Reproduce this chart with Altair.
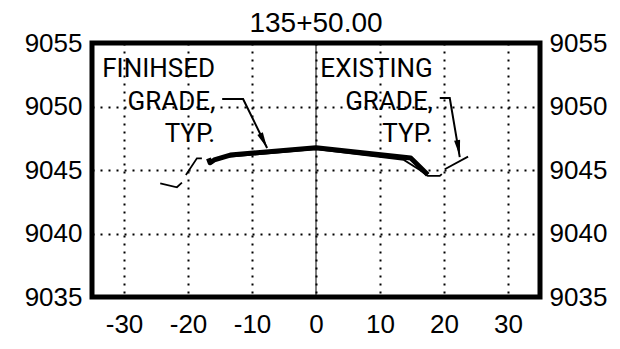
import altair as alt
import pandas as pd

# ---- data ----
fg_x = [-16.8, -16.54, -15.9, -13.4, 0.0, 14.8, 17.47]
fg_y = [9045.92, 9045.57, 9045.79, 9046.18, 9046.75, 9045.94, 9044.62]

eg_seg = [1, 1, 1, 2, 2, 2, 3, 3, 3, 3, 3, 3, 3, 4, 4]
eg_x = [-24.34, -21.73, -20.95, -20.33, -18.61, -17.83,
        -15.5, 0.0, 13.73, 16.22, 17.47, 19.34, 19.66,
        20.12, 23.76]
eg_y = [9043.95, 9043.64, 9044.0, 9044.6, 9045.92, 9045.92,
        9045.95, 9046.65, 9045.79, 9045.0, 9044.53, 9044.53, 9044.68,
        9045.06, 9046.05]

note_left = ["FINIHSED", "GRADE,", "TYP."]
note_right = ["EXISTING", "GRADE,", "TYP."]
note_y = [9052.32, 9049.72, 9047.2]
note_left_x = -15.76
note_right_x = 18.25

leader_id = ["L", "L", "L", "R", "R", "R"]
leader_x = [-14.66, -11.39, -7.64, 19.34, 20.9, 22.46]
leader_y = [9050.59, 9050.59, 9046.73, 9050.67, 9050.67, 9046.02]

head_x = [-8.19, 22.26]
head_y = [9047.30, 9046.72]
head_angle = [334, 350]

x_ticks = [-30, -20, -10, 0, 10, 20, 30]
y_ticks = [9035, 9040, 9045, 9050, 9055]
station = ["135+50.00"]
station_x = [0]
station_y = [9055]

FONT = "Liberation Sans"
NOTE_FONT = "Roboto"

fg = pd.DataFrame({"x": fg_x, "y": fg_y})
eg = pd.DataFrame({"seg": eg_seg, "x": eg_x, "y": eg_y})
notes = pd.DataFrame({
    "x": [note_left_x] * 3 + [note_right_x] * 3,
    "y": note_y + note_y,
    "t": note_left + note_right,
})
leaders = pd.DataFrame({"id": leader_id, "x": leader_x, "y": leader_y})
heads = pd.DataFrame({"x": head_x, "y": head_y, "a": head_angle})
center = pd.DataFrame({"x": [0], "y": [9035], "y2": [9055]})
title_df = pd.DataFrame({"x": station_x, "y": station_y, "t": station})

xs = alt.Scale(domain=[-35, 35], nice=False, zero=False)
ys = alt.Scale(domain=[9035, 9055], nice=False, zero=False)

x_axis = alt.Axis(values=x_ticks, title=None, grid=True, ticks=False, tickSize=0,
                  domain=False, labelFontSize=26, labelFont=FONT, labelColor="black",
                  labelPadding=14, gridColor="black", gridDash=[2, 6], gridWidth=2,
                  gridOpacity=1, labelFlush=False, labelExpr="toString(datum.value)")
y_axis_l = alt.Axis(values=y_ticks, title=None, grid=True, ticks=False, tickSize=0,
                    domain=False, labelFontSize=26, labelFont=FONT, labelColor="black",
                    labelPadding=10, gridColor="black", gridDash=[2, 6], gridWidth=2,
                    gridOpacity=1, orient="left", labelFlush=False, format="d")
y_axis_r = alt.Axis(values=y_ticks, title=None, grid=False, ticks=False, tickSize=0,
                    domain=False, labelFontSize=26, labelFont=FONT, labelColor="black",
                    labelPadding=9, orient="right", labelFlush=False, format="d")

X = alt.X("x:Q", scale=xs, axis=x_axis)

center_rule = alt.Chart(center).mark_rule(color="black", strokeWidth=1).encode(
    x=X,
    y=alt.Y("y:Q", scale=ys, axis=None),
    y2="y2:Q",
)

existing = alt.Chart(eg).mark_line(color="black", strokeWidth=1.8).encode(
    x=X,
    y=alt.Y("y:Q", scale=ys, axis=y_axis_r),
    detail="seg:N",
    order=alt.Order("x:Q"),
)

finished = alt.Chart(fg).mark_line(color="black", strokeWidth=5, strokeJoin="round").encode(
    x=X,
    y=alt.Y("y:Q", scale=ys, axis=y_axis_l),
    order=alt.Order("x:Q"),
)

text = alt.Chart(notes).mark_text(align="right", baseline="alphabetic", fontSize=26,
                                  font=NOTE_FONT, color="black").encode(
    x=X,
    y=alt.Y("y:Q", scale=ys, axis=None),
    text="t:N",
)

lead = alt.Chart(leaders).mark_line(color="black", strokeWidth=2).encode(
    x=X,
    y=alt.Y("y:Q", scale=ys, axis=None),
    detail="id:N",
)

arrow = alt.Chart(heads).mark_point(
    shape="M0,1L-0.38,-1L0.38,-1Z", filled=True, color="black", opacity=1, size=256
).encode(
    x=X,
    y=alt.Y("y:Q", scale=ys, axis=None),
    angle=alt.Angle("a:Q", scale=None),
)

title = alt.Chart(title_df).mark_text(align="center", baseline="alphabetic", fontSize=28,
                                      font=FONT, color="black", dy=-11).encode(
    x=X,
    y=alt.Y("y:Q", scale=ys, axis=None),
    text="t:N",
)

chart = alt.layer(center_rule, existing, finished, lead, arrow, text, title).resolve_axis(
    y="independent"
).properties(
    width=448, height=254,
    autosize=alt.AutoSizeParams(type="none"),
    padding={"left": 84, "top": 35, "right": 70, "bottom": 50},
).configure_view(stroke="black", strokeWidth=5)

chart.save("out.html", embed_options={"renderer": "svg", "actions": False})
